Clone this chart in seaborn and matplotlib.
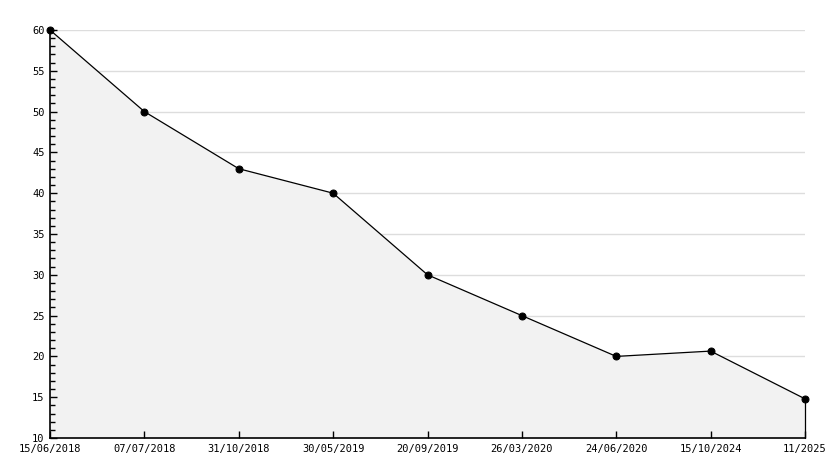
import pandas as pd
import numpy as np
import matplotlib
matplotlib.use('Agg')
import matplotlib.pyplot as plt
import seaborn as sns
from matplotlib.ticker import MultipleLocator

dates = ['15/06/2018', '07/07/2018', '31/10/2018', '30/05/2019', '20/09/2019',
         '26/03/2020', '24/06/2020', '15/10/2024', '11/2025']
values = [60, 50, 43, 40, 30, 25, 20, 20.65, 14.8]

df = pd.DataFrame({'date': dates, 'value': values})
df['pos'] = np.arange(len(df))

sns.set_style('white')
plt.rcParams['font.family'] = ['DejaVu Sans Mono']

fig = plt.figure(figsize=(8.34, 4.68), dpi=100)
ax = fig.add_axes([50/834, 30/468, 755/834, 408/468])

ax.set_xlim(0, len(df) - 1)
ax.set_ylim(10, 60)

# grid sits under the shaded area
for yv in range(15, 61, 5):
    ax.axhline(yv, color='#dddddd', linewidth=1, zorder=0.2)

ax.fill_between(df['pos'], df['value'], 10, color='#f2f2f2', linewidth=0, zorder=0.5)
sns.lineplot(data=df, x='pos', y='value', color='black', linewidth=0.9,
             marker='o', markersize=5, markeredgecolor='black', ax=ax,
             zorder=3, clip_on=False)
ax.plot([df['pos'].iloc[-1]] * 2, [10, values[-1]], color='black',
        linewidth=0.9, zorder=3, clip_on=False)

ax.set_xticks(df['pos'])
ax.set_xticklabels(df['date'])
ax.yaxis.set_major_locator(MultipleLocator(5))
ax.yaxis.set_minor_locator(MultipleLocator(1))
ax.set_axisbelow(False)
ax.set_xlabel('')
ax.set_ylabel('')

for s in ['top', 'right']:
    ax.spines[s].set_visible(False)
for s in ['left', 'bottom']:
    ax.spines[s].set_color('black')
    ax.spines[s].set_linewidth(1.2)

ax.tick_params(axis='y', which='major', direction='in', length=5, width=1,
               labelsize=7.5, pad=4, left=True, color='black', labelcolor='black')
ax.tick_params(axis='y', which='minor', direction='in', length=3.5, width=1,
               left=True, color='black')
ax.tick_params(axis='x', which='major', direction='in', length=5, width=1,
               labelsize=7.5, pad=4, bottom=True, color='black', labelcolor='black')

fig.savefig('out.png', dpi=100)
